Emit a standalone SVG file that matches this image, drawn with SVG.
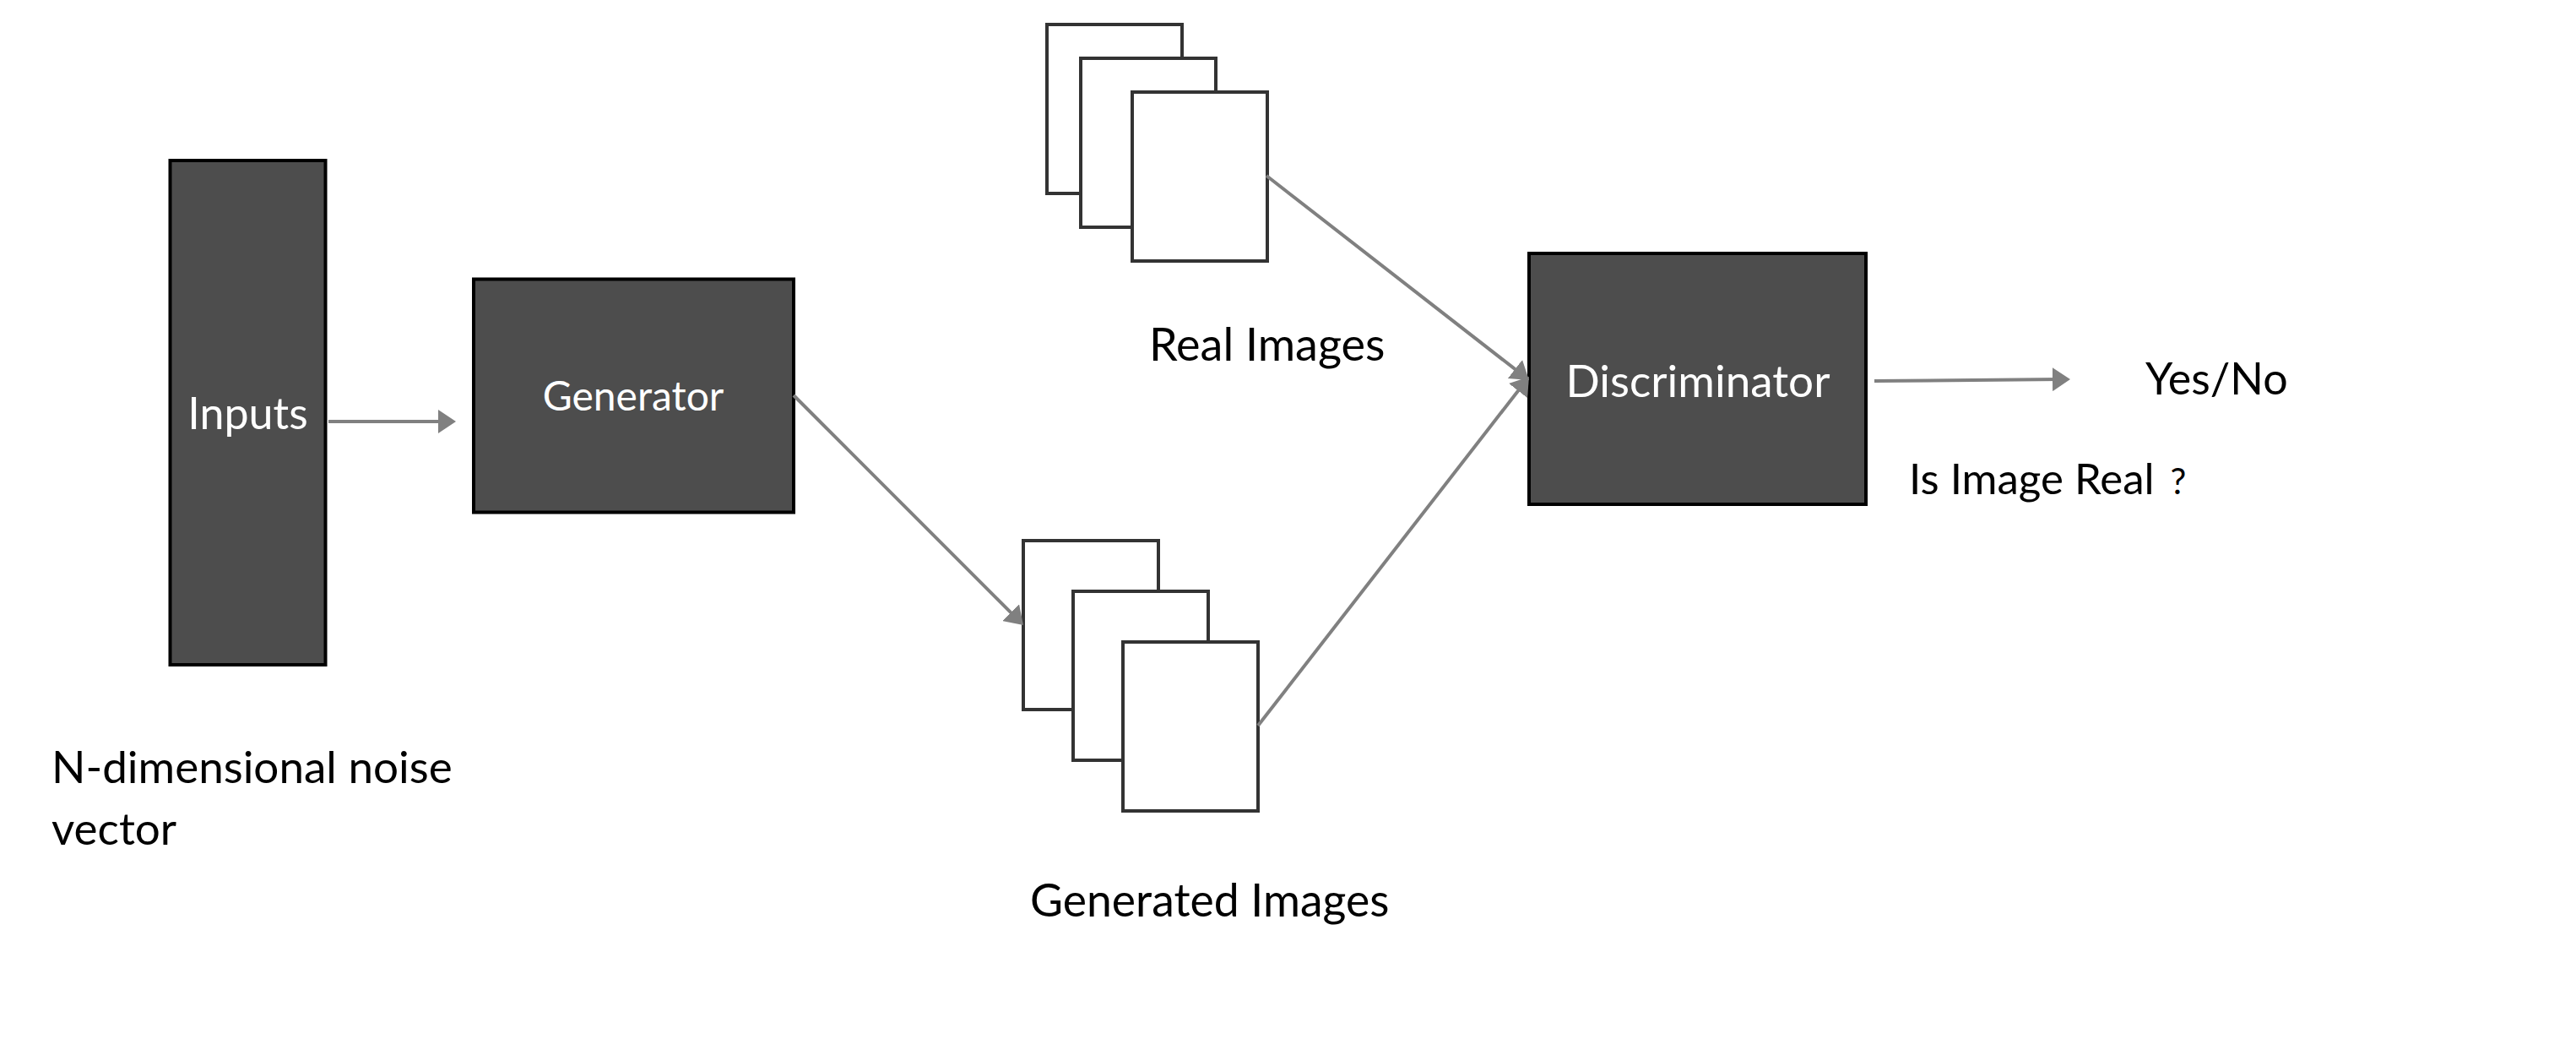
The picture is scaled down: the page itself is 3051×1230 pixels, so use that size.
<svg xmlns="http://www.w3.org/2000/svg" width="3051" height="1230" viewBox="0 0 3051 1230">
<defs>
<style>
.box{fill:#4d4d4d;stroke:#000;stroke-width:4}
.card{fill:#fff;stroke:#333;stroke-width:4}
.wt{fill:#fff;font-family:Lato,"Liberation Sans",sans-serif}
.bt{fill:#000;font-family:Lato,"Liberation Sans",sans-serif}
.conn{stroke:#808080;stroke-width:4;fill:none;marker-end:url(#arr)}
</style>
<marker id="arr" markerUnits="userSpaceOnUse" markerWidth="22" markerHeight="28" refX="10" refY="14" orient="auto" viewBox="0 0 22 28">
<path d="M0,0 L21,14 L0,28 z" fill="#808080"/>
</marker>
</defs>
<rect width="3051" height="1230" fill="#fff"/>
<g id="inputs">
<rect class="box" x="201.5" y="190" width="184" height="597"/>
<text class="wt" x="293.5" y="508" font-size="52" text-anchor="middle">Inputs</text>
</g>
<g id="generator">
<rect class="box" x="561" y="330.5" width="379" height="276"/>
<text class="wt" x="750" y="486" font-size="48" text-anchor="middle">Generator</text>
</g>
<g id="real-images">
<rect class="card" x="1240" y="29" width="160" height="200"/>
<rect class="card" x="1280" y="69" width="160" height="200"/>
<rect class="card" x="1341" y="109" width="160" height="200"/>
<text class="bt" x="1361" y="427" font-size="54">Real Images</text>
</g>
<g id="generated-images">
<rect class="card" x="1212" y="640" width="160" height="200"/>
<rect class="card" x="1271" y="700" width="160" height="200"/>
<rect class="card" x="1330" y="760" width="160" height="200"/>
<text class="bt" x="1220" y="1085" font-size="53.5">Generated Images</text>
</g>
<g id="discriminator">
<rect class="box" x="1811" y="300" width="399" height="297"/>
<text class="wt" x="2011" y="470" font-size="53" text-anchor="middle">Discriminator</text>
</g>
<g id="noise-label">
<text class="bt" font-size="53"><tspan x="61" y="927">N-dimensional noise</tspan><tspan x="61" y="1000">vector</tspan></text>
</g>
<g id="output">
<text class="bt" x="2541" y="467" font-size="52">Yes/No</text>
<text class="bt" x="2261" y="585" font-size="51">Is Image Real <tspan dx="6" font-size="42">?</tspan></text>
</g>
<g id="connectors">
<path class="conn" d="M389,499 L529,499"/>
<path class="conn" d="M940,468 L1204.2,732.2"/>
<path class="conn" d="M1500,208 L1802.3,443.2"/>
<path class="conn" d="M1490,859 L1804.2,454.7"/>
<path class="conn" d="M2220,451 L2441,449.1"/>
</g>
</svg>
